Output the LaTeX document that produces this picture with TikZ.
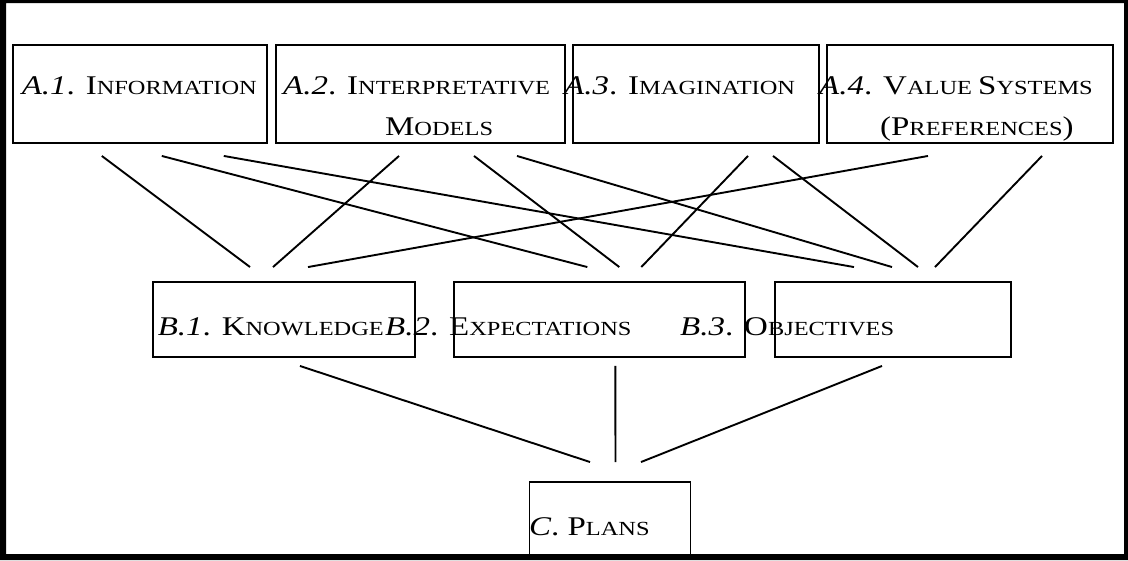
\documentclass[tikz,border=0pt]{standalone}
\usepackage{fontspec}
\setmainfont{Liberation Serif}[FakeStretch=1.22]
\newcommand{\smc}[1]{{\fontsize{20}{24}\selectfont #1}}

\begin{document}
\begin{tikzpicture}[x=1pt,y=-1pt,
every node/.style={font=\fontsize{27}{40}\selectfont},
abox/.style={draw,line width=1.9pt,minimum width=#1,minimum height=98pt,inner sep=0pt},
bbox/.style={draw,line width=1.9pt,minimum width=#1,minimum height=75pt,inner sep=0pt},
lbl/.style={anchor=base west,inner sep=0pt},
link/.style={line width=1.9pt}
]
\useasboundingbox (0,0) rectangle (1128,560);
% boxes
\node[abox=254pt] (a1) at (139.8,94) {};
\node[abox=289pt] (a2) at (420.5,94) {};
\node[abox=246pt] (a3) at (696,94) {};
\node[abox=286pt] (a4) at (970,94) {};
\node[bbox=262pt] (b1) at (284,319.5) {};
\node[bbox=291pt] (b2) at (599.3,319.5) {};
\node[bbox=236pt] (b3) at (893,319.5) {};
\node[draw,line width=1.9pt,minimum width=161pt,minimum height=76pt,inner sep=0pt] (c) at (610,520) {};
% labels
\node[lbl] (a1t) at (21.6,94) {\textit{A.1}. I\smc{NFORMATION}};
\node[lbl] (a2t) at (283,94) {\textit{A.2}. I\smc{NTERPRETATIVE}};
\node[lbl] (a2u) at (385,135) {M\smc{ODELS}};
\node[lbl] (a3t) at (564,94) {\textit{A.3}. I\smc{MAGINATION}};
\node[lbl] (a4t) at (819,94) {\textit{A.4}. V\smc{ALUE }S\smc{YSTEMS}};
\node[lbl] (a4u) at (880,135) {(P\smc{REFERENCES})};
\node[lbl] (b1t) at (157.6,335) {\textit{B.1}. K\smc{NOWLEDGE}};
\node[lbl] (b2t) at (385,335) {\textit{B.2}. E\smc{XPECTATIONS}};
\node[lbl] (b3t) at (680,335) {\textit{B.3}. O\smc{BJECTIVES}};
\node[lbl] (ct) at (529,535) {\textit{C}. P\smc{LANS}};
% A -> B
\foreach \s/\sx/\t/\tx in {a1/-38/b1/-34, a1/22/b2/-12, a1/84/b3/-39, a2/-21.5/b1/-11,
  a2/53.5/b2/20, a2/96.5/b3/-1, a3/52/b2/42, a3/77/b3/25, a4/-42/b1/24, a4/72/b3/42}
  \draw[link] ([xshift=\sx pt,yshift=-12pt]\s.south) -- ([xshift=\tx pt,yshift=14pt]\t.north);
% B -> C
\foreach \s/\sx/\tx in {b1/16/-20, b2/16/5.5, b3/-11/31}
  \draw[link] ([xshift=\sx pt,yshift=-8pt]\s.south) -- ([xshift=\tx pt,yshift=19pt]c.north);
% frame
\fill[even odd rule] (0,0) rectangle (1128,560) (6,3) rectangle (1124,554);
\end{tikzpicture}
\end{document}
